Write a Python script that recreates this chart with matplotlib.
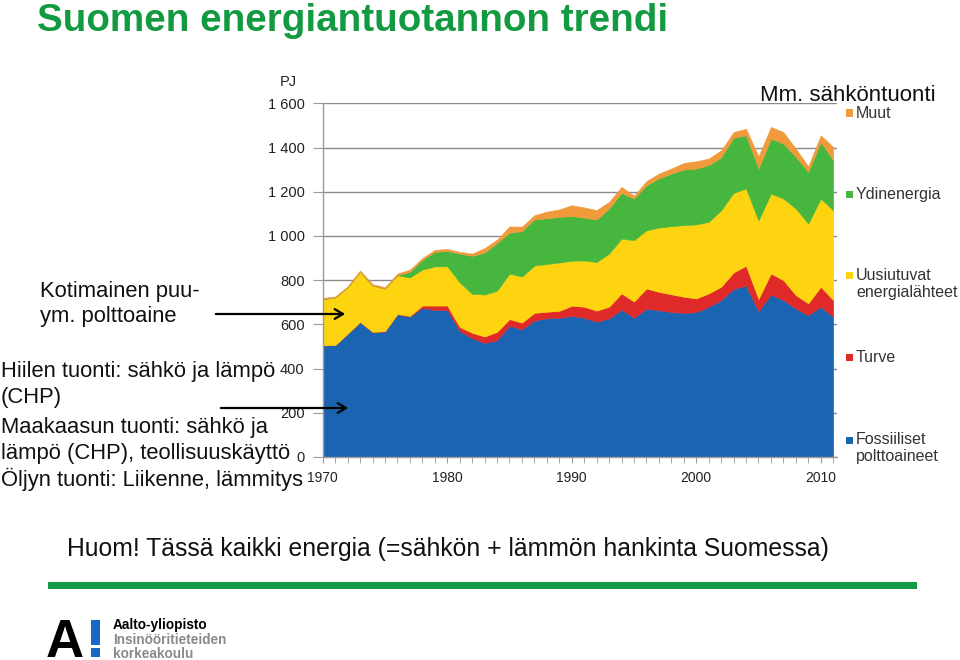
import matplotlib
matplotlib.use("Agg")
import matplotlib.pyplot as plt
from matplotlib.patches import Rectangle, FancyArrowPatch

plt.rcParams['font.family'] = ['Liberation Sans', 'DejaVu Sans']

# ---- data (PJ) ----
years = list(range(1970, 2012))
fossil = [505, 506, 558, 611, 566, 568, 645, 635, 675, 665,
          665, 570, 538, 516, 528, 594, 578, 617, 628, 630,
          638, 630, 612, 627, 667, 630, 671, 664, 656, 652,
          655, 680, 710, 760, 775, 660, 735, 710, 672, 642,
          680, 634]
peat = [0, 0, 0, 0, 0, 1, 2, 3, 10, 20,
        20, 18, 24, 29, 38, 30, 30, 35, 29, 31,
        46, 50, 50, 53, 73, 73, 91, 83, 80, 73,
        62, 60, 60, 75, 90, 55, 95, 90, 60, 53,
        90, 76]
renewables = [209, 216, 210, 227, 210, 193, 175, 174, 163, 177,
              178, 202, 176, 190, 186, 206, 208, 214, 216, 219,
              204, 209, 220, 240, 248, 278, 263, 291, 308, 324,
              335, 324, 346, 360, 350, 355, 362, 369, 392, 361,
              399, 406]
nuclear = [0, 0, 0, 0, 0, 0, 0, 26, 44, 66,
           69, 130, 172, 190, 216, 185, 206, 209, 207, 206,
           202, 194, 192, 204, 207, 188, 204, 222, 238, 251,
           253, 256, 239, 250, 240, 235, 248, 249, 233, 234,
           256, 227]
other = [6, 4, 4, 6, 6, 6, 8, 10, 8, 9,
         9, 8, 10, 20, 15, 28, 20, 19, 30, 34,
         49, 46, 43, 30, 27, 13, 19, 22, 23, 30,
         33, 30, 32, 25, 30, 55, 53, 52, 38, 25,
         30, 60]

series_labels = ["Fossiiliset\npolttoaineet", "Turve", "Uusiutuvat\nenergialähteet",
                 "Ydinenergia", "Muut"]
colors = ["#1b64b2", "#e02a2a", "#fdd40f", "#46b63f", "#f09a3c"]

y_ticks = [0, 200, 400, 600, 800, 1000, 1200, 1400, 1600]
y_ticklabels = ["0", "200", "400", "600", "800", "1 000", "1 200", "1 400", "1 600"]
x_ticks = [1970, 1980, 1990, 2000, 2010]

W, H = 960, 660
fig = plt.figure(figsize=(W / 100, H / 100), dpi=100)
fig.patch.set_facecolor("white")


def fx(x):
    return x / W


def fy(y):
    return 1 - y / H


# ---- chart ----
x0, x1, ytop, ybot = 322.7, 837, 103.3, 457
ax = fig.add_axes([fx(x0), fy(ybot), fx(x1) - fx(x0), fy(ytop) - fy(ybot)])
polys = ax.stackplot(years, fossil, peat, renewables, nuclear, other,
                     colors=colors, linewidth=0)
for p, c in zip(polys, colors):
    p.set_edgecolor(c)
    p.set_linewidth(0.4)
ax.set_xlim(1970, 1970 + (x1 - x0) / 12.45)
ax.set_ylim(0, 1600)
ax.set_yticks(y_ticks)
ax.set_yticklabels(y_ticklabels)
ax.set_xticks(x_ticks)
ax.set_xticklabels([str(v) for v in x_ticks])
ax.set_xticks(years, minor=True)
ax.yaxis.grid(True, color="#8a8a8a", linewidth=1.0)
ax.set_axisbelow(True)
for s in ("top", "right"):
    ax.spines[s].set_visible(False)
for s in ("left", "bottom"):
    ax.spines[s].set_color("#9a9a9a")
    ax.spines[s].set_linewidth(1.0)
ax.tick_params(axis="y", direction="out", length=7, color="#9a9a9a",
               labelsize=10.5, labelcolor="#222222", pad=6)
ax.tick_params(axis="x", which="both", direction="out", length=4, color="#9a9a9a",
               labelsize=10, labelcolor="#222222", pad=6)
ax.tick_params(axis="x", which="minor", length=4)

fig.text(fx(280), fy(82), "PJ", fontsize=10.5, color="#222222", va="center", ha="left")

# ---- legend (right) ----
legend_pos = [(440, 457), (357, None), (275, 293), (194, None), (113, None)]
for (yl, yl2), lab, c in zip(legend_pos, series_labels, colors):
    lines = lab.split("\n")
    fig.patches.append(Rectangle((fx(846), fy(yl + 3.5)), 7 / W, 7 / H,
                                 transform=fig.transFigure, facecolor=c,
                                 edgecolor="none"))
    fig.text(fx(856), fy(yl), lines[0], fontsize=11.5, color="#333333",
             va="center", ha="left")
    if len(lines) > 1:
        fig.text(fx(856), fy(yl2), lines[1], fontsize=11.5, color="#333333",
                 va="center", ha="left")

# ---- slide texts ----
fig.text(fx(37), fy(31), "Suomen energiantuotannon trendi", fontsize=27.8,
         fontweight="bold", color="#119a3f", va="baseline", ha="left")
fig.text(fx(760), fy(101), "Mm. sähköntuonti", fontsize=16.0, color="#111111",
         va="baseline", ha="left")

fs = 15.8
fig.text(fx(40), fy(292), "Kotimainen puu-", fontsize=fs, color="#111111", va="center")
fig.text(fx(40), fy(317), "ym. polttoaine", fontsize=fs, color="#111111", va="center")
fig.text(fx(1), fy(372), "Hiilen tuonti: sähkö ja lämpö", fontsize=fs, color="#111111", va="center")
fig.text(fx(1), fy(398), "(CHP)", fontsize=fs, color="#111111", va="center")
fig.text(fx(1), fy(427), "Maakaasun tuonti: sähkö ja", fontsize=fs, color="#111111", va="center")
fig.text(fx(1), fy(453), "lämpö (CHP), teollisuuskäyttö", fontsize=fs, color="#111111", va="center")
fig.text(fx(1), fy(479), "Öljyn tuonti: Liikenne, lämmitys", fontsize=fs, color="#111111", va="center")

for (xa, xb, ya) in [(213, 348, 314), (218, 351, 408)]:
    arr = FancyArrowPatch((fx(xa), fy(ya)), (fx(xb), fy(ya)), transform=fig.transFigure,
                          arrowstyle="->,head_length=6,head_width=3.5",
                          color="black", linewidth=1.6)
    fig.patches.append(arr)

fig.text(fx(67), fy(549), "Huom! Tässä kaikki energia (=sähkön + lämmön hankinta Suomessa)",
         fontsize=17.8, color="#111111", va="center", ha="left")

# green rule
fig.patches.append(Rectangle((fx(48), fy(589)), (917 - 48) / W, 7 / H,
                             transform=fig.transFigure, facecolor="#129a45",
                             edgecolor="none"))

# ---- logo ----
fig.text(fx(46), fy(657), "A", fontsize=38, fontweight="bold", color="black",
         va="baseline", ha="left")
fig.patches.append(Rectangle((fx(91), fy(645)), 9 / W, 25 / H,
                             transform=fig.transFigure, facecolor="#1569c7", edgecolor="none"))
fig.patches.append(Rectangle((fx(91), fy(657)), 9 / W, 9 / H,
                             transform=fig.transFigure, facecolor="#1569c7", edgecolor="none"))
fig.text(fx(113), fy(625), "Aalto-yliopisto", fontsize=9.8, fontweight="bold",
         color="black", va="center", ha="left")
fig.text(fx(113), fy(640), "Insinööritieteiden", fontsize=9.8, fontweight="bold",
         color="#8a8a8a", va="center", ha="left")
fig.text(fx(113), fy(654), "korkeakoulu", fontsize=9.8, fontweight="bold",
         color="#8a8a8a", va="center", ha="left")

fig.savefig("out.png", dpi=100, facecolor="white")
